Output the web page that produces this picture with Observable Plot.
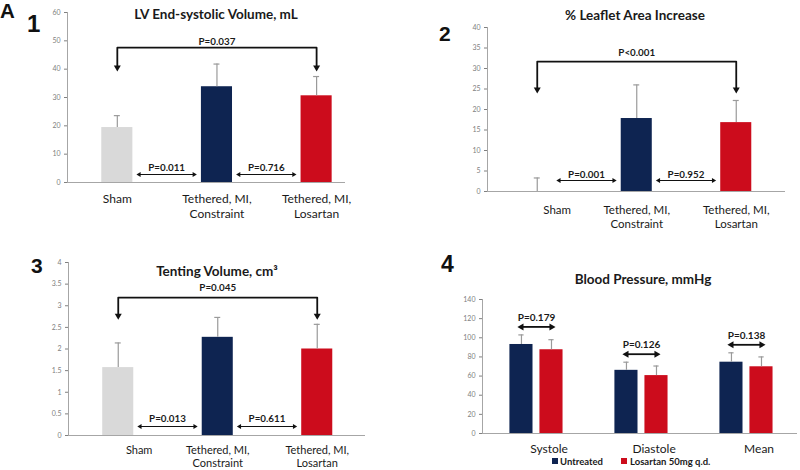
<!DOCTYPE html>
<html><head><meta charset="utf-8">
<script src="https://cdn.jsdelivr.net/npm/d3@7"></script>
<script src="https://cdn.jsdelivr.net/npm/@observablehq/plot@0.6"></script>
<style>
body{margin:0;background:#fff;}
#root{position:relative;width:800px;height:470px;overflow:hidden;font-family:Lato,sans-serif;}
.abs{position:absolute;line-height:1;white-space:nowrap;}
.big{font-family:"Liberation Sans",Arial,sans-serif;font-weight:bold;color:#111;}
.title{font-family:Lato,sans-serif;font-weight:bold;color:#1a1a1a;transform:translateX(-50%);}
.leg{font-family:Lato,sans-serif;font-weight:bold;font-size:9.5px;color:#1a1a1a;}
.sq{position:absolute;width:6px;height:6px;}
svg{overflow:visible;}
</style></head>
<body><div id="root"></div>
<script>
// ---------- data ----------
const categories = ["Sham", "Tethered, MI,\nConstraint", "Tethered, MI,\nLosartan"];
const barColors = ["#d9d9d9", "#0e2451", "#cc0c1c"];

const lvesvMean = [19.4, 33.8, 30.6];
const lvesvErr = [4.2, 8.0, 6.8];
const lvesvTicks = [0, 10, 20, 30, 40, 50, 60];
const lvesvP = ["P=0.011", "P=0.716"];
const lvesvBracketP = "P=0.037";

const leafletMean = [0, 17.8, 16.8];
const leafletErr = [3.3, 8.2, 5.4];
const leafletTicks = [0, 5, 10, 15, 20, 25, 30, 35, 40];
const leafletP = ["P=0.001", "P=0.952"];
const leafletBracketP = "P<0.001";

const tentingMean = [1.57, 2.27, 2.0];
const tentingErr = [0.57, 0.46, 0.57];
const tentingTicks = [0, 0.5, 1, 1.5, 2, 2.5, 3, 3.5, 4];
const tentingP = ["P=0.013", "P=0.611"];
const tentingBracketP = "P=0.045";

const bpCategories = ["Systole", "Diastole", "Mean"];
const bpSeries = ["Untreated", "Losartan 50mg q.d."];
const bpSeriesColors = ["#0e2451", "#cc0c1c"];
const bpUntreated = [93, 66, 74.5];
const bpUntreatedErr = [10, 8.5, 9.8];
const bpLosartan = [87.5, 60.5, 69.7];
const bpLosartanErr = [10.5, 10, 10.3];
const bpTicks = [0, 20, 40, 60, 80, 100, 120, 140];
const bpP = ["P=0.179", "P=0.126", "P=0.138"];

// ---------- helpers ----------
const root = document.getElementById("root");
function place(node, left, top) {
  node.style.position = "absolute";
  node.style.left = left + "px";
  node.style.top = top + "px";
  root.appendChild(node);
}
function html(cls, text, left, top, fs) {
  const d = document.createElement("div");
  d.className = "abs " + cls;
  d.textContent = text;
  d.style.left = left + "px";
  d.style.top = top + "px";
  d.style.fontSize = fs + "px";
  root.appendChild(d);
}
const tickFmt = d => String(d);

function barPanel(o) {
  const innerH = o.height - o.mt - o.mb;
  const k = o.yMax / innerH; // data units per pixel
  const data = o.means.map((m, i) => ({i, mean: m, top: m + o.errs[i], color: barColors[i]}));
  const pairs = o.pLabels.map((label, j) => ({label, x1: j + 0.22, x2: j + 1 - 0.23, y: o.arrowPx * k}));
  const ends = pairs.flatMap(p => [{x: p.x1, y: p.y, rot: -90}, {x: p.x2, y: p.y, rot: 90}]);
  const br = [{x: 0, y: o.dropY}, {x: 0, y: o.bracketY}, {x: 2, y: o.bracketY}, {x: 2, y: o.dropY}];
  return Plot.plot({
    width: o.width, height: o.height,
    marginTop: o.mt, marginBottom: o.mb, marginLeft: o.ml, marginRight: o.mr,
    x: {domain: o.xDomain, axis: null},
    y: {domain: [0, o.yMax], ticks: o.ticks, tickFormat: tickFmt, tickSize: 3, tickPadding: 4, label: null},
    color: {type: "identity"},
    style: {fontFamily: "Lato, sans-serif", fontSize: "7px", color: "#808080", background: "transparent", overflow: "visible"},
    marks: [
      Plot.ruleX([o.xDomain[0]], {stroke: "#a6a6a6"}),
      Plot.ruleY([0], {stroke: "#a6a6a6"}),
      Plot.rectY(data, {x1: d => d.i - 0.156, x2: d => d.i + 0.156, y1: 0, y2: "mean", fill: "color"}),
      Plot.ruleX(data, {x: "i", y1: "mean", y2: "top", stroke: "#9a9a9a", strokeWidth: 1.2}),
      Plot.ruleY(data, {y: "top", x1: d => d.i - 0.03, x2: d => d.i + 0.03, stroke: "#9a9a9a", strokeWidth: 1.2}),
      Plot.ruleY(pairs, {y: "y", x1: "x1", x2: "x2", stroke: "#111", strokeWidth: 1}),
      Plot.dot(ends, {x: "x", y: "y", symbol: "triangle", r: 1.8, fill: "#111", rotate: "rot"}),
      Plot.text(pairs, {x: d => (d.x1 + d.x2) / 2, y: d => d.y + o.textGapPx * k, text: "label", fontWeight: "bold", fontSize: 9.8, fill: "#1a1a1a"}),
      Plot.line(br, {x: "x", y: "y", stroke: "#111", strokeWidth: 1.8}),
      Plot.dot([br[0], br[3]], {x: "x", y: "y", symbol: "triangle", rotate: 180, r: 2.6, fill: "#111"}),
      Plot.text([o.bracketLabel], {x: 1, y: o.bracketTextY, text: d => d, fontWeight: "bold", fontSize: 9.8, fill: "#1a1a1a"}),
      Plot.text(categories, {x: (d, i) => i + (i === 0 ? o.shamShift : 0), frameAnchor: "bottom", lineAnchor: "top", dy: o.labelDy, fontSize: o.labelFs, lineHeight: o.lineHeight, fill: "#1a1a1a", text: d => d})
    ]
  });
}

// ---------- panel 1 ----------
place(barPanel({
  width: 400, height: 230, mt: 12, mb: 48, ml: 67, mr: 55, xDomain: [-0.5, 2.29],
  yMax: 60, ticks: lvesvTicks, means: lvesvMean, errs: lvesvErr, pLabels: lvesvP,
  arrowPx: 8, textGapPx: 7, bracketY: 47.6, dropY: 40.6, bracketTextY: 49.6, bracketLabel: lvesvBracketP,
  shamShift: 0, labelDy: 10, labelFs: 12, lineHeight: 1.25
}), 0, 0);

// ---------- panel 2 ----------
place(barPanel({
  width: 400, height: 230, mt: 27, mb: 39, ml: 87, mr: 15, xDomain: [-0.5, 2.495],
  yMax: 40, ticks: leafletTicks, means: leafletMean, errs: leafletErr, pLabels: leafletP,
  arrowPx: 11, textGapPx: 6, bracketY: 31.7, dropY: 24.9, bracketTextY: 33.8, bracketLabel: leafletBracketP,
  shamShift: 0.2, labelDy: 12.5, labelFs: 11.5, lineHeight: 1.2
}), 400, 0);

// ---------- panel 3 ----------
place(barPanel({
  width: 400, height: 240, mt: 32, mb: 35, ml: 68, mr: 35, xDomain: [-0.5, 2.485],
  yMax: 4, ticks: tentingTicks, means: tentingMean, errs: tentingErr, pLabels: tentingP,
  arrowPx: 9, textGapPx: 8, bracketY: 3.19, dropY: 2.77, bracketTextY: 3.41, bracketLabel: tentingBracketP,
  shamShift: 0.21, labelDy: 9, labelFs: 11, lineHeight: 1.2
}), 0, 230);

// ---------- panel 4 ----------
(function () {
  const W = 400, H = 240, mt = 69, mb = 37, ml = 82, mr = 3;
  const k = 140 / (H - mt - mb);
  const off = 0.143, hw = 0.11;
  const bars = bpCategories.flatMap((c, g) => [
    {g, x: g - off, mean: bpUntreated[g], top: bpUntreated[g] + bpUntreatedErr[g], color: bpSeriesColors[0]},
    {g, x: g + off, mean: bpLosartan[g], top: bpLosartan[g] + bpLosartanErr[g], color: bpSeriesColors[1]}
  ]);
  const arrows = bpP.map((label, g) => ({
    label, x1: g - off, x2: g + off,
    y: Math.max(bpUntreated[g] + bpUntreatedErr[g], bpLosartan[g] + bpLosartanErr[g]) + 8 * k
  }));
  const ends = arrows.flatMap(a => [{x: a.x1, y: a.y, rot: -90}, {x: a.x2, y: a.y, rot: 90}]);
  const svg = Plot.plot({
    width: W, height: H, marginTop: mt, marginBottom: mb, marginLeft: ml, marginRight: mr,
    x: {domain: [-0.514, 2.486], axis: null},
    y: {domain: [0, 140], ticks: bpTicks, tickFormat: tickFmt, tickSize: 3, tickPadding: 4, label: null},
    color: {type: "identity"},
    style: {fontFamily: "Lato, sans-serif", fontSize: "7px", color: "#808080", background: "transparent", overflow: "visible"},
    marks: [
      Plot.ruleX([-0.514], {stroke: "#a6a6a6"}),
      Plot.ruleY([0], {stroke: "#a6a6a6"}),
      Plot.rectY(bars, {x1: d => d.x - hw, x2: d => d.x + hw, y1: 0, y2: "mean", fill: "color"}),
      Plot.ruleX(bars, {x: "x", y1: "mean", y2: "top", stroke: "#9a9a9a", strokeWidth: 1.2}),
      Plot.ruleY(bars, {y: "top", x1: d => d.x - 0.025, x2: d => d.x + 0.025, stroke: "#9a9a9a", strokeWidth: 1.2}),
      Plot.ruleY(arrows, {y: "y", x1: "x1", x2: "x2", stroke: "#111", strokeWidth: 1.8}),
      Plot.dot(ends, {x: "x", y: "y", symbol: "triangle", r: 2.6, fill: "#111", rotate: "rot"}),
      Plot.text(arrows, {x: d => (d.x1 + d.x2) / 2, y: d => d.y + 9 * k, text: "label", fontWeight: "bold", fontSize: 10, fill: "#1a1a1a"}),
      Plot.text(bpCategories, {x: (d, i) => i + 0.12, frameAnchor: "bottom", lineAnchor: "top", dy: 11, fontSize: 12, fill: "#1a1a1a", text: d => d})
    ]
  });
  place(svg, 400, 230);
  // legend
  bpSeries.forEach((s, i) => {
    const sq = document.createElement("div");
    sq.className = "sq";
    sq.style.background = bpSeriesColors[i];
    sq.style.left = (i === 0 ? 552 : 621) + "px";
    sq.style.top = "458px";
    root.appendChild(sq);
    html("leg", s, i === 0 ? 560 : 630, 456.5, 9.5);
  });
})();

// ---------- titles & panel letters ----------
html("big", "A", 0, 0.5, 20.5);
html("big", "1", 27, 12, 24);
html("big", "2", 439, 23, 21);
html("big", "3", 31, 255, 21);
html("big", "4", 441, 253, 23);
html("title", "LV End-systolic  Volume, mL", 216, 8, 13.5);
html("title", "% Leaflet Area Increase", 635, 9, 13.5);
html("title", "Tenting  Volume, cm\u00B3", 217, 265, 13.5);
html("title", "Blood Pressure, mmHg", 643, 273, 13.5);
</script>
</body></html>
